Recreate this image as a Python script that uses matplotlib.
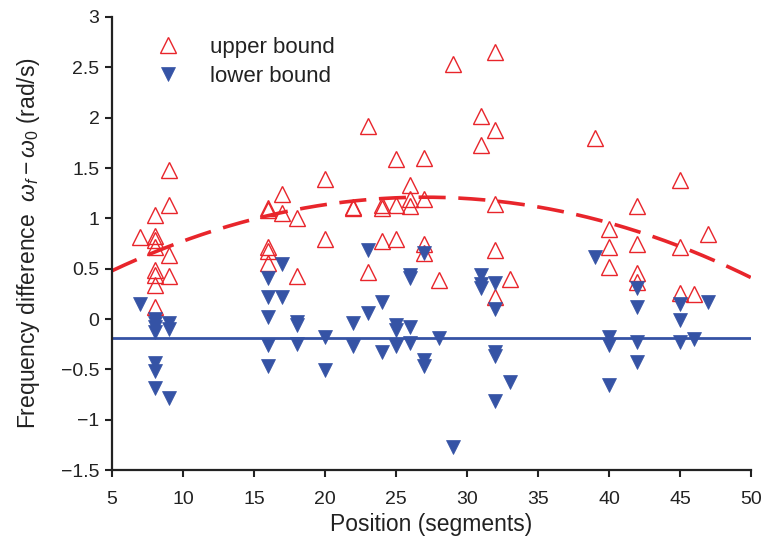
import numpy as np
import matplotlib
matplotlib.use("Agg")
import matplotlib.pyplot as plt
from matplotlib.ticker import FuncFormatter

plt.rcParams["font.family"] = ["Liberation Sans", "DejaVu Sans"]
plt.rcParams["mathtext.fontset"] = "custom"
plt.rcParams["mathtext.rm"] = "Liberation Sans"
plt.rcParams["mathtext.it"] = "Liberation Sans:italic"

# upper bound estimates (open red triangles)
upper_x = [7, 8, 8, 8, 8, 8, 8, 8, 8, 9, 9, 9, 9,
           16, 16, 16, 16, 16, 17, 17, 18, 18, 20, 20, 22, 22, 23, 23,
           24, 24, 24, 25, 25, 25, 26, 26, 26, 27, 27, 27, 27, 28, 29,
           31, 31, 32, 32, 32, 32, 32, 33, 39, 40, 40, 40,
           42, 42, 42, 42, 45, 45, 45, 46, 47]
upper_y = [0.81, 1.03, 0.82, 0.78, 0.72, 0.49, 0.44, 0.34, 0.12, 1.48, 1.13, 0.64, 0.43,
           1.10, 1.08, 0.72, 0.68, 0.56, 1.24, 1.05, 1.00, 0.43, 1.39, 0.79, 1.11, 1.10, 1.92, 0.47,
           1.13, 1.10, 0.77, 1.59, 1.13, 0.79, 1.33, 1.19, 1.12, 1.60, 1.19, 0.75, 0.66, 0.39, 2.53,
           2.02, 1.73, 2.65, 1.88, 1.14, 0.69, 0.22, 0.40, 1.80, 0.89, 0.72, 0.52,
           1.12, 0.75, 0.46, 0.37, 1.38, 0.72, 0.26, 0.25, 0.84]

# lower bound estimates (filled blue triangles)
lower_x = [7, 8, 8, 8, 8, 8, 8, 8, 9, 9, 9,
           16, 16, 16, 16, 16, 17, 17, 18, 18, 18, 20, 20, 22, 22, 23, 23,
           24, 24, 25, 25, 25, 26, 26, 26, 26, 27, 27, 27, 28, 29,
           31, 31, 31, 32, 32, 32, 32, 32, 33, 39, 40, 40, 40,
           42, 42, 42, 42, 45, 45, 45, 46, 47]
lower_y = [0.15, 0.0, -0.04, -0.08, -0.13, -0.44, -0.52, -0.69, -0.04, -0.10, -0.78,
           0.41, 0.22, 0.02, -0.26, -0.47, 0.55, 0.22, -0.03, -0.06, -0.25, -0.18, -0.51, -0.04, -0.27, 0.69, 0.06,
           0.17, -0.33, -0.06, -0.11, -0.27, 0.44, 0.41, -0.08, -0.24, 0.66, -0.41, -0.47, -0.19, -1.27,
           0.44, 0.35, 0.31, 0.36, 0.10, -0.33, -0.37, -0.81, -0.63, 0.62, -0.18, -0.26, -0.66,
           0.31, 0.12, -0.23, -0.43, 0.15, -0.01, -0.23, -0.20, 0.17]

# quadratic fit of upper bounds: a*(x-h)^2 + k
fit_a, fit_h, fit_k = -0.00151, 27.0, 1.21
lower_mean = -0.19

red = "#e8252b"
blue = "#3553a5"
ink = "#222222"

fig = plt.figure(figsize=(7.63, 5.36), dpi=100)
ax = fig.add_axes([0.1468, 0.1231, 0.8375, 0.8452])

xs = np.linspace(5, 50, 200)
ax.plot(xs, fit_a * (xs - fit_h) ** 2 + fit_k, color=red, lw=2.6,
        dashes=(7.5, 3.5), zorder=2)
ax.axhline(lower_mean, color=blue, lw=2.0, zorder=2)

ax.plot(upper_x, upper_y, "^", ms=11.5, mfc="none", mec=red, mew=1.0,
        ls="none", label="upper bound", zorder=3)
ax.plot(lower_x, lower_y, "v", ms=10.5, mfc=blue, mec=blue, mew=0.5,
        ls="none", label="lower bound", zorder=3)

ax.set_xlim(5, 50)
ax.set_ylim(-1.5, 3)
ax.set_xticks(np.arange(5, 51, 5))
ax.set_yticks(np.arange(-1.5, 3.01, 0.5))
ax.yaxis.set_major_formatter(FuncFormatter(lambda v, p: f"{v:g}".replace("-", "\u2212")))
ax.tick_params(direction="out", length=5, width=1.5, labelsize=14, color=ink,
               labelcolor=ink)
ax.tick_params(axis="x", pad=10)
ax.tick_params(axis="y", pad=4)
for side in ("top", "right"):
    ax.spines[side].set_visible(False)
for side in ("left", "bottom"):
    ax.spines[side].set_linewidth(1.6)
    ax.spines[side].set_color(ink)

ax.set_xlabel("Position (segments)", fontsize=16.5, color=ink, labelpad=4)
ax.set_ylabel(r"Frequency difference  $\omega_{f} - \omega_0$ (rad/s)", fontsize=16.5,
              color=ink, labelpad=14)

leg = ax.legend(loc="upper left", bbox_to_anchor=(0.07, 0.956), frameon=False,
                fontsize=16, handlelength=1.0, handletextpad=1.4,
                labelspacing=0.35, borderaxespad=0, borderpad=0)
for t in leg.get_texts():
    t.set_color(ink)

fig.savefig("out.png", dpi=100)
